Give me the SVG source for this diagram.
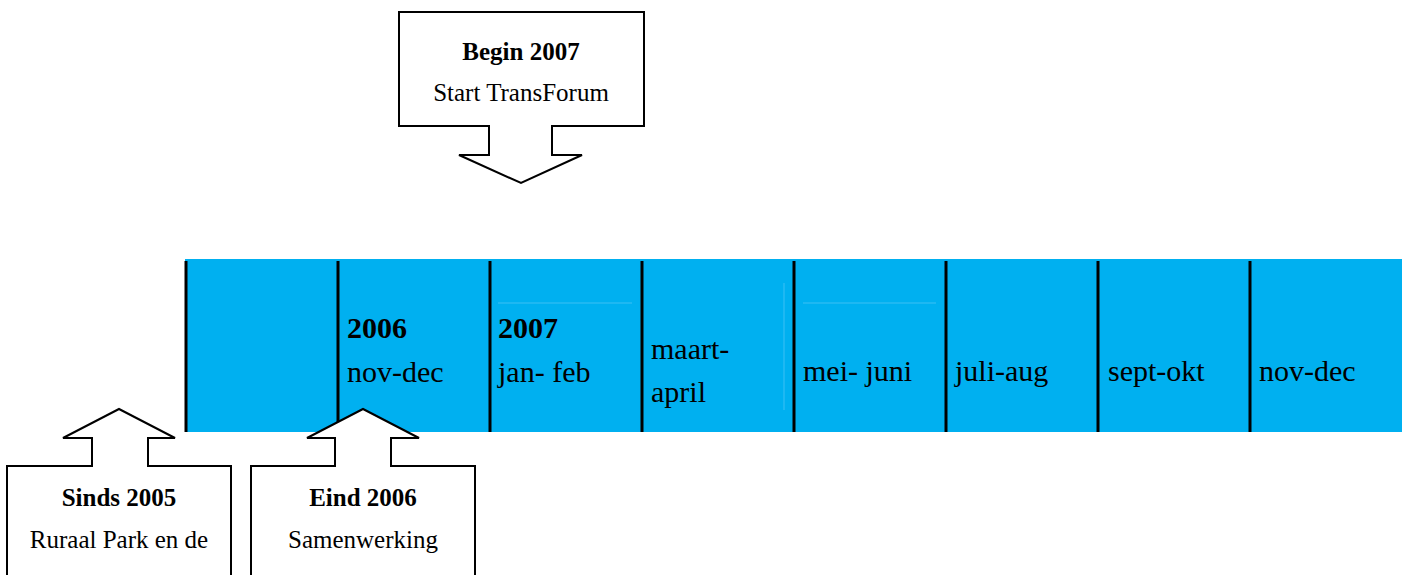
<svg xmlns="http://www.w3.org/2000/svg" width="1402" height="575" viewBox="0 0 1402 575">
  <style>
    .callout { fill: #ffffff; stroke: #000000; stroke-width: 2; stroke-linejoin: miter; }
    .band { fill: #00b0f0; }
    .divider { stroke: #000000; stroke-width: 3; }
    .faint { stroke: #3cc0f4; stroke-width: 1; }
    .t { font-family: "Liberation Serif", "DejaVu Serif", serif; fill: #000000; }
    .cell { font-size: 30px; }
    .cellb { font-size: 30px; font-weight: bold; }
    .ct { font-size: 25px; text-anchor: middle; }
    .ctb { font-size: 25px; font-weight: bold; text-anchor: middle; }
  </style>

  <!-- timeline band -->
  <g id="timeline">
    <rect class="band" x="185" y="259" width="1217" height="173"/>
    <line class="faint" x1="498" y1="303" x2="632" y2="303"/>
    <line class="faint" x1="803" y1="303" x2="936" y2="303"/>
    <line class="faint" x1="784" y1="283" x2="784" y2="410"/>
    <line class="divider" x1="186" y1="261" x2="186" y2="432"/>
    <line class="divider" x1="338" y1="261" x2="338" y2="432"/>
    <line class="divider" x1="490" y1="261" x2="490" y2="432"/>
    <line class="divider" x1="642" y1="261" x2="642" y2="432"/>
    <line class="divider" x1="794" y1="261" x2="794" y2="432"/>
    <line class="divider" x1="946" y1="261" x2="946" y2="432"/>
    <line class="divider" x1="1098" y1="261" x2="1098" y2="432"/>
    <line class="divider" x1="1250" y1="261" x2="1250" y2="432"/>
  </g>

  <g id="cell-2006">
    <text class="t cellb" x="347" y="338">2006</text>
    <text class="t cell" x="347" y="382">nov-dec</text>
  </g>
  <g id="cell-2007">
    <text class="t cellb" x="498" y="338">2007</text>
    <text class="t cell" x="498" y="382">jan- feb</text>
  </g>
  <g id="cell-maart">
    <text class="t cell" x="651" y="359">maart-</text>
    <text class="t cell" x="651" y="402">april</text>
  </g>
  <g id="cell-mei">
    <text class="t cell" x="803" y="381">mei- juni</text>
  </g>
  <g id="cell-juli">
    <text class="t cell" x="955" y="381">juli-aug</text>
  </g>
  <g id="cell-sept">
    <text class="t cell" x="1108" y="381">sept-okt</text>
  </g>
  <g id="cell-novdec">
    <text class="t cell" x="1259" y="381">nov-dec</text>
  </g>

  <!-- callouts -->
  <g id="callout-begin-2007">
    <path class="callout" d="M399,12 H644 V126 H552 V155 H582 L521,183 L459,155 H489 V126 H399 Z"/>
    <text class="t ctb" x="521" y="60">Begin 2007</text>
    <text class="t ct" x="521" y="101">Start TransForum</text>
  </g>

  <g id="callout-sinds-2005">
    <path class="callout" d="M7,580 V466 H92 V438 H63 L119,409 L175,438 H148 V466 H231 V580 Z"/>
    <text class="t ctb" x="119" y="506">Sinds 2005</text>
    <text class="t ct" x="119" y="548">Ruraal Park en de</text>
  </g>

  <g id="callout-eind-2006">
    <path class="callout" d="M251,580 V466 H335 V438 H307 L363,409 L419,438 H391 V466 H475 V580 Z"/>
    <text class="t ctb" x="363" y="506">Eind 2006</text>
    <text class="t ct" x="363" y="548">Samenwerking</text>
  </g>
</svg>
